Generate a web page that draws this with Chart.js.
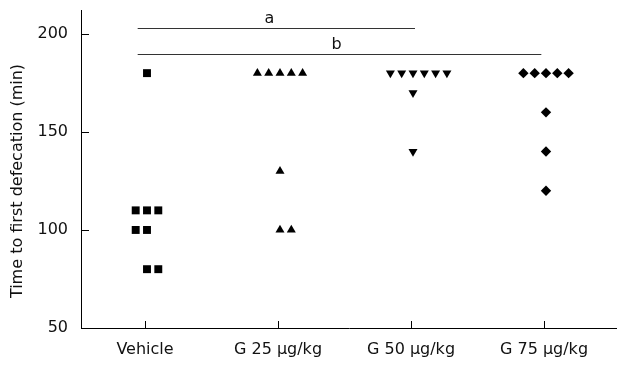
<!DOCTYPE html>
<html>
<head>
<meta charset="utf-8">
<script src="https://cdn.jsdelivr.net/npm/chart.js@4"></script>
<style>
  html, body { margin: 0; padding: 0; background: #fff; }
  #c { display: block; }
</style>
</head>
<body>
<canvas id="c" width="617" height="367" style="width:617px;height:367px"></canvas>
<script>
// ---- data ----
const categories = ["Vehicle", "G 25 \u03bcg/kg", "G 50 \u03bcg/kg", "G 75 \u03bcg/kg"];
const yTickValues = [50, 100, 150, 200];

const vehicleValues = [180, 110, 110, 110, 100, 100, 80, 80];
const vehicleSlots  = [0, -1, 0, 1, -1, 0, 0, 1];

const g25Values = [180, 180, 180, 180, 180, 130, 100, 100];
const g25Slots  = [-2, -1, 0, 1, 2, 0, 0, 1];

const g50Values = [180, 180, 180, 180, 180, 180, 170, 140];
const g50Slots  = [-2, -1, 0, 1, 2, 3, 0, 0];

const g75Values = [180, 180, 180, 180, 180, 160, 140, 120];
const g75Slots  = [-2, -1, 0, 1, 2, 0, 0, 0];

// significance brackets
const sigLabels = ["a", "b"];
const sigFromGroup = [1, 1];
const sigToGroup = [3, 4];
const sigLevel = [203, 190];

// ---- styling ----
const FONT = "DejaVu Sans";
const INK = "#111";
const slotWidth = 0.085;
const markerShift = 0.015;

const groupValues = [vehicleValues, g25Values, g50Values, g75Values];
const groupSlots = [vehicleSlots, g25Slots, g50Slots, g75Slots];
const groupStyles = [
  { pointStyle: 'rect', radius: 5.6, rotation: 0 },
  { pointStyle: 'triangle', radius: 5.2, rotation: 0 },
  { pointStyle: 'triangle', radius: 5.2, rotation: 180 },
  { pointStyle: 'rectRot', radius: 5.2, rotation: 0 }
];

const datasets = groupValues.map((vals, g) => ({
  label: categories[g],
  data: vals.map((v, i) => ({ x: g + 1 + markerShift + groupSlots[g][i] * slotWidth, y: v })),
  pointStyle: groupStyles[g].pointStyle,
  pointRadius: groupStyles[g].radius,
  pointRotation: groupStyles[g].rotation,
  pointBackgroundColor: '#000',
  pointBorderColor: '#000',
  pointBorderWidth: 0,
  showLine: false
}));

const innerTicks = {
  id: 'innerTicks',
  afterDraw(chart) {
    const { ctx, scales: { x, y } } = chart;
    ctx.save();
    ctx.strokeStyle = '#000';
    ctx.lineWidth = 1;
    yTickValues.forEach(v => {
      const py = Math.round(y.getPixelForValue(v)) + 0.5;
      ctx.beginPath();
      ctx.moveTo(x.left, py);
      ctx.lineTo(x.left + 8, py);
      ctx.stroke();
    });
    categories.forEach((c, i) => {
      const px = Math.round(x.getPixelForValue(i + 1)) + 0.5;
      ctx.beginPath();
      ctx.moveTo(px, y.bottom);
      ctx.lineTo(px, y.bottom - 7);
      ctx.stroke();
    });
    ctx.restore();
  }
};

const sigPlugin = {
  id: 'sig',
  afterDraw(chart) {
    const { ctx, scales: { x, y } } = chart;
    ctx.save();
    ctx.strokeStyle = '#333';
    ctx.lineWidth = 1;
    ctx.fillStyle = INK;
    ctx.font = "16px '" + FONT + "'";
    ctx.textAlign = 'center';
    ctx.textBaseline = 'alphabetic';
    sigLabels.forEach((lab, i) => {
      const x1 = x.getPixelForValue(sigFromGroup[i] - 0.055);
      const x2 = x.getPixelForValue(sigToGroup[i] + (i === 0 ? 0.03 : -0.02));
      const py = Math.round(y.getPixelForValue(sigLevel[i])) + 0.5;
      ctx.beginPath();
      ctx.moveTo(x1, py);
      ctx.lineTo(x2, py);
      ctx.stroke();
      ctx.fillText(lab, (x1 + x2) / 2 - (i === 0 ? 7 : 3), py - 6);
    });
    ctx.restore();
  }
};

const yTitle = {
  id: 'yTitle',
  afterDraw(chart) {
    const { ctx } = chart;
    ctx.save();
    ctx.translate(18, 181);
    ctx.rotate(-Math.PI / 2);
    ctx.fillStyle = INK;
    ctx.font = "16px '" + FONT + "'";
    ctx.textAlign = 'center';
    ctx.textBaseline = 'middle';
    ctx.fillText("Time to first defecation (min)", 0, 0);
    ctx.restore();
  }
};

new Chart(document.getElementById('c'), {
  type: 'scatter',
  data: { datasets },
  options: {
    responsive: false,
    animation: false,
    devicePixelRatio: 1,
    layout: { autoPadding: false, padding: { top: 10, right: 0, left: 0, bottom: 0 } },
    plugins: { legend: { display: false }, tooltip: { enabled: false } },
    scales: {
      x: {
        type: 'linear',
        min: 1 - 64 / 133,
        max: 4 + 73 / 133,
        afterBuildTicks: s => { s.ticks = categories.map((c, i) => ({ value: i + 1 })); },
        ticks: {
          callback: v => categories[Math.round(v) - 1],
          font: { family: FONT, size: 16 },
          color: INK,
          padding: 12,
          maxRotation: 0,
          autoSkip: false
        },
        grid: { display: false, drawTicks: false },
        border: { display: true, color: '#000', width: 1 },
        afterFit: s => { s.height = 39; s.paddingLeft = 0; s.paddingRight = 0; }
      },
      y: {
        min: 50,
        max: 212.2,
        afterBuildTicks: s => { s.ticks = yTickValues.map(v => ({ value: v })); },
        ticks: {
          font: { family: FONT, size: 16 },
          color: INK,
          padding: 13
        },
        grid: { display: false, drawTicks: false },
        border: { display: true, color: '#000', width: 1 },
        afterFit: s => { s.width = 81; s.paddingTop = 0; s.paddingBottom = 0; }
      }
    }
  },
  plugins: [innerTicks, sigPlugin, yTitle]
});
</script>
</body>
</html>
